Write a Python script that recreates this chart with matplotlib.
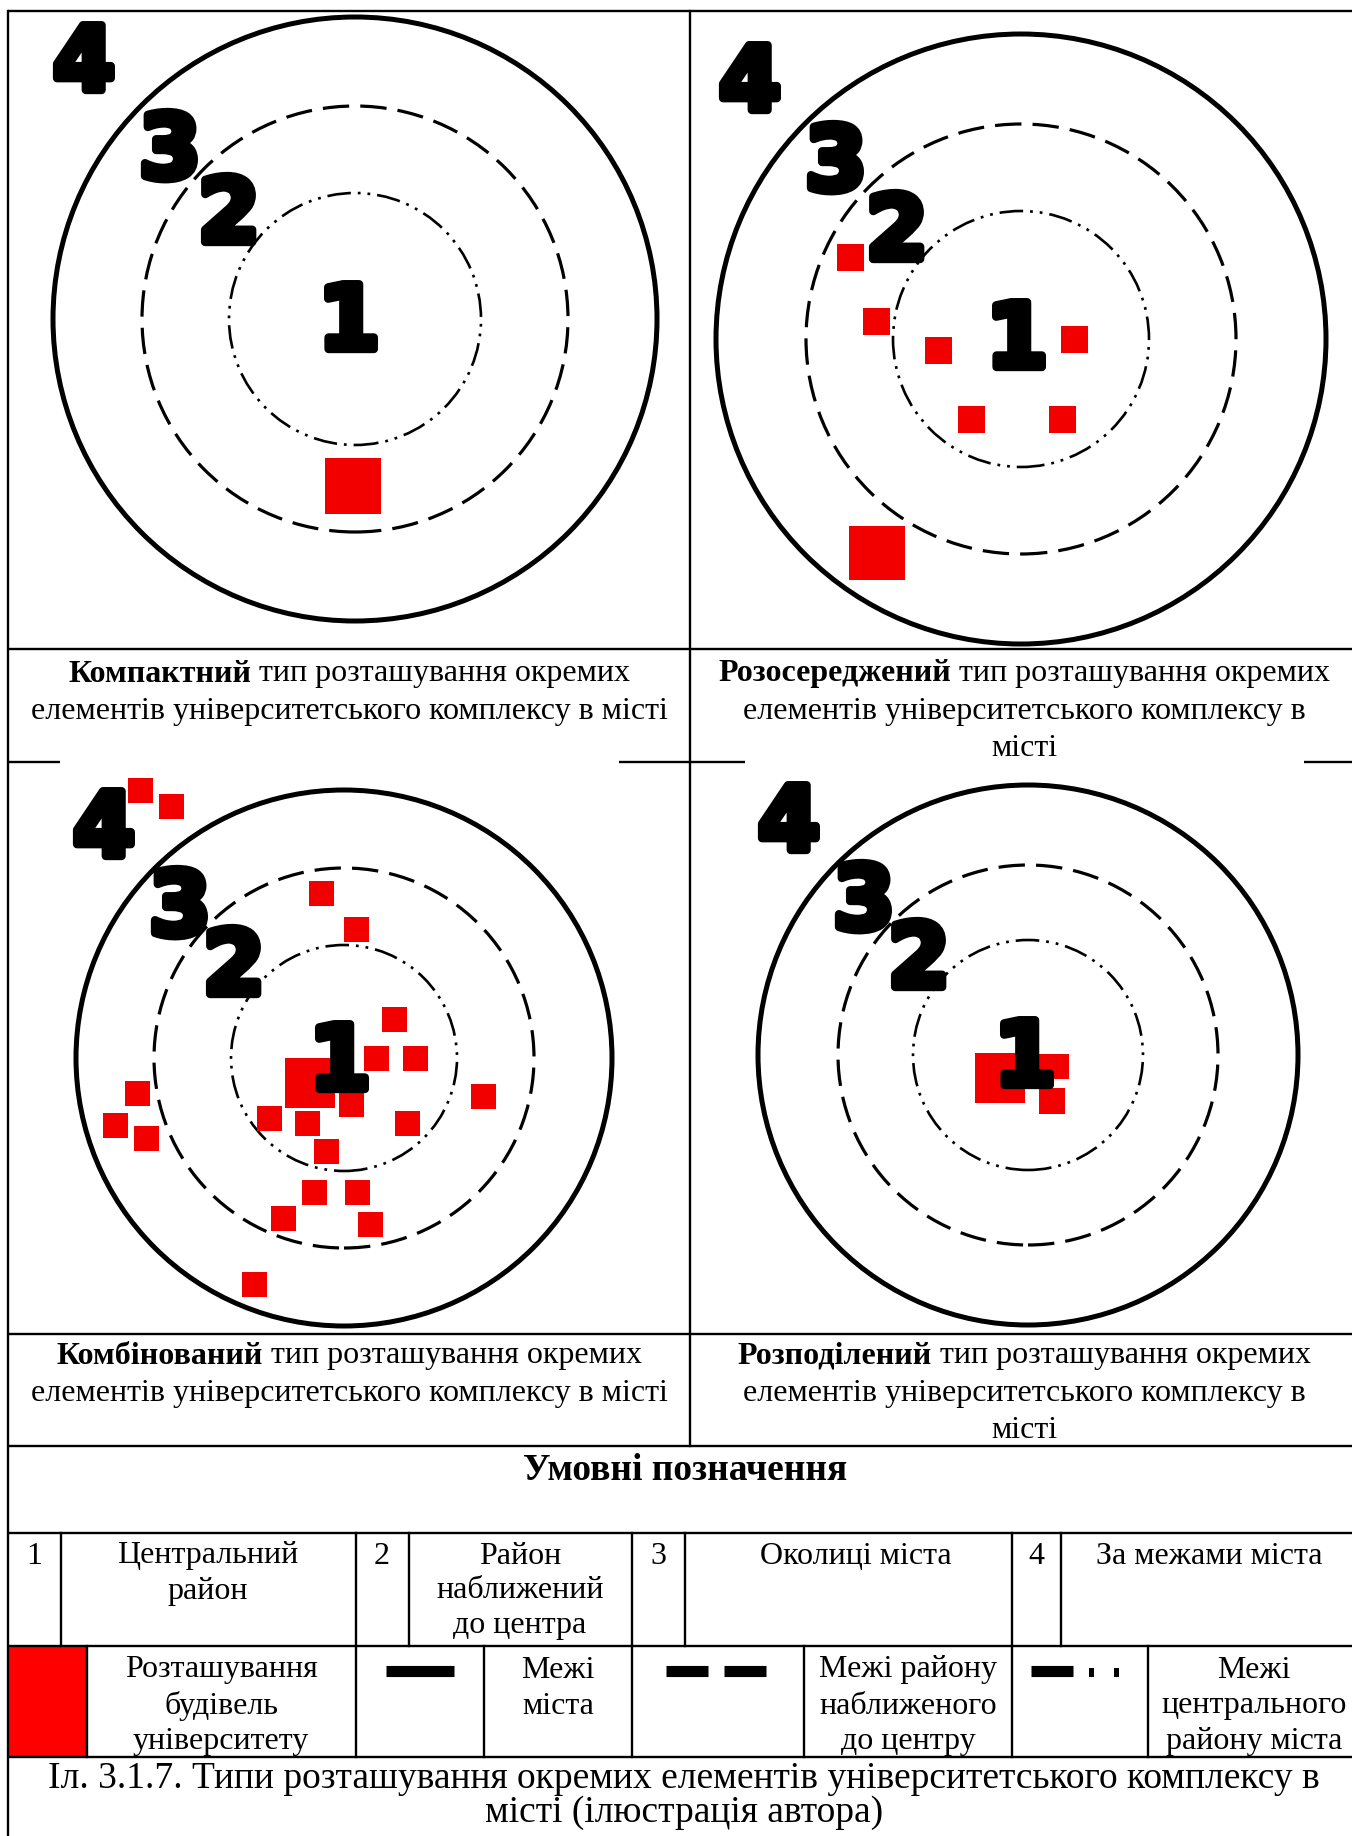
import matplotlib
matplotlib.use("Agg")
import matplotlib.pyplot as plt
from matplotlib.patches import Circle, Rectangle
import matplotlib.patheffects as pe

plt.rcParams["lines.scale_dashes"] = False

W, H = 1352, 1836
SERIF = "Liberation Serif"
RED = "#f20000"
BODY = 23
TITLE = 27
CAPTION = 27

# --- circle diagrams (pixel units, offsets from the circle centre, y up) ---
centres = [(355, 319), (1021, 339), (344, 1058), (1028, 1055)]
# city boundary, near-centre district, central district
radii = [(302, 213, 126), (305, 215, 128), (268, 190, 113), (270, 190, 115)]

zone_labels = ["1", "2", "3", "4"]
zone_pos = [
    [(-6, 4), (-126, 111), (-185, 175), (-271, 263)],
    [(-4, 6), (-124, 114), (-185, 183), (-271, 263)],
    [(-4, 3), (-110, 98), (-164, 157), (-240, 236)],
    [(-3, 4), (-109, 102), (-164, 160), (-239, 239)],
]

# university buildings: (dx, dy, w, h)
compact = [(-2, -167, 56, 56)]
dispersed = [
    (-171, 81, 27, 27), (-145, 17, 27, 27), (-83, -12, 27, 27),
    (53, -1, 27, 27), (-50, -81, 27, 27), (41, -81, 27, 27),
    (-144, -214, 56, 54),
]
combined = [
    (-203, 268, 25, 25), (-172, 252, 25, 25), (-22, 165, 25, 25),
    (13, 129, 25, 25), (51, 39, 25, 25), (33, 0, 25, 25), (72, 0, 25, 25),
    (-34, -25, 50, 50), (8, -46, 25, 25), (140, -38, 25, 25),
    (-206, -35, 25, 25), (-228, -67, 25, 25), (-197, -80, 25, 25),
    (-74, -60, 25, 25), (-36, -65, 25, 25), (64, -65, 25, 25),
    (-17, -93, 25, 25), (-29, -134, 25, 25), (14, -134, 25, 25),
    (-60, -160, 25, 25), (27, -166, 25, 25), (-89, -226, 25, 25),
]
divided = [(-28, -23, 50, 50), (19, -11, 44, 25), (24, -46, 26, 26)]
buildings = [compact, dispersed, combined, divided]

# --- captions ---
cap_bold = ["Компактний", "Розосереджений", "Комбінований", "Розподілений"]
cap_lines = [
    ["тип розташування окремих", "елементів університетського комплексу в місті"],
    ["тип розташування окремих", "елементів університетського комплексу в", "місті"],
    ["тип розташування окремих", "елементів університетського комплексу в місті"],
    ["тип розташування окремих", "елементів університетського комплексу в", "місті"],
]
cap_x = [349, 1024, 349, 1024]
cap_y = [671, 671, 1353, 1353]

legend_title = "Умовні позначення"
zone_cells = [
    ("1", 34), ("Центральний\nрайон", 208), ("2", 382),
    ("Район\nнаближений\nдо центра", 520), ("3", 658),
    ("Околиці міста", 856), ("4", 1036), ("За межами міста", 1209),
]
symbol_cells = [
    ("Розташування\nбудівель\nуніверситету", 221), ("Межі\nміста", 558),
    ("Межі району\nнаближеного\nдо центру", 908),
    ("Межі\nцентрального\nрайону міста", 1254),
]
figure_caption = [
    "Іл. 3.1.7. Типи розташування окремих елементів університетського комплексу в",
    "місті (ілюстрація автора)",
]

fig = plt.figure(figsize=(W / 100, H / 100), dpi=100)
fig.patch.set_facecolor("white")
ax = fig.add_axes([0, 0, 1, 1])
ax.set_xlim(0, W)
ax.set_ylim(H, 0)
ax.axis("off")

# table grid
lw = 1.7
for y in [11, 649, 1334, 1446, 1533, 1646, 1757]:
    ax.plot([8, W], [y, y], color="black", lw=lw, solid_capstyle="butt")
for x0, x1 in [(8, 60), (619, 745), (1304, W)]:
    ax.plot([x0, x1], [762, 762], color="black", lw=lw, solid_capstyle="butt")
ax.plot([8, 8], [11, H], color="black", lw=lw)
ax.plot([690, 690], [11, 1446], color="black", lw=lw)
for x in [61, 356, 409, 632, 685, 1012, 1061]:
    ax.plot([x, x], [1533, 1646], color="black", lw=lw)
for x in [87, 356, 484, 632, 804, 1012, 1148]:
    ax.plot([x, x], [1646, 1757], color="black", lw=lw)

# legend symbols
ax.add_patch(Rectangle((9, 1647), 78, 110, color="#ff0000", lw=0))
sym_y = 1671
for x0, x1 in [(386, 454), (666, 708), (724, 766), (1031, 1073)]:
    ax.plot([x0, x1], [sym_y, sym_y], color="black", lw=8, solid_capstyle="butt")
for x in [1091, 1116]:
    ax.add_patch(Rectangle((x - 2.5, sym_y - 3), 5, 9, color="black", lw=0))

# captions with bold first word
fig.canvas.draw()
renderer = fig.canvas.get_renderer()
for i in range(4):
    y = cap_y[i] + 3
    tb = ax.text(0, y, cap_bold[i], fontsize=BODY, family=SERIF,
                 fontweight="bold", va="center", ha="left")
    tr = ax.text(0, y, cap_lines[i][0], fontsize=BODY, family=SERIF,
                 va="center", ha="left")
    wb = tb.get_window_extent(renderer).width
    wr = tr.get_window_extent(renderer).width
    gap = BODY * 0.25 * 100 / 72
    start = cap_x[i] - (wb + gap + wr) / 2
    tb.set_x(start)
    tr.set_x(start + wb + gap)
    for k, line in enumerate(cap_lines[i][1:], start=1):
        ax.text(cap_x[i], y + 37 * k, line, fontsize=BODY, family=SERIF,
                va="center", ha="center")

ax.text(685, 1471, legend_title, fontsize=TITLE, family=SERIF,
        fontweight="bold", ha="center", va="center")

for label, x in zone_cells:
    for k, line in enumerate(label.split("\n")):
        ax.text(x, 1556 + 35 * k, line, fontsize=BODY, family=SERIF,
                ha="center", va="center")
for label, x in symbol_cells:
    for k, line in enumerate(label.split("\n")):
        ax.text(x, 1670 + 36 * k, line, fontsize=BODY, family=SERIF,
                ha="center", va="center")

for k, line in enumerate(figure_caption):
    ax.text(684, 1779 + 34 * k, line, fontsize=CAPTION, family=SERIF,
            ha="center", va="center")

# circle panels
ring_styles = [
    dict(lw=3.6, ls="-"),
    dict(lw=2.3, ls=(0, (19, 8))),
    dict(lw=1.9, ls=(0, (17, 5, 2, 5, 2, 5))),
]
for (cx, cy), rr, pos, blds in zip(centres, radii, zone_pos, buildings):
    pax = fig.add_axes([0, 0, 1, 1])
    pax.set_xlim(-cx, W - cx)
    pax.set_ylim(cy - H, cy)
    pax.axis("off")
    pax.patch.set_alpha(0)
    for r, st in zip(rr, ring_styles):
        pax.add_patch(Circle((0, 0), r, fill=False, color="black",
                             lw=st["lw"], ls=st["ls"], zorder=1))
    for dx, dy, w, h in blds:
        pax.add_patch(Rectangle((dx - w / 2, dy - h / 2), w, h,
                                color=RED, lw=0, zorder=2))
    for lab, (dx, dy) in zip(zone_labels, pos):
        pax.text(dx, dy - 34, lab, fontsize=64, family="DejaVu Sans",
                 fontweight="bold", ha="center", va="baseline", zorder=3,
                 path_effects=[pe.withStroke(linewidth=6, foreground="black")])

fig.savefig("out.png", dpi=100, facecolor="white")
